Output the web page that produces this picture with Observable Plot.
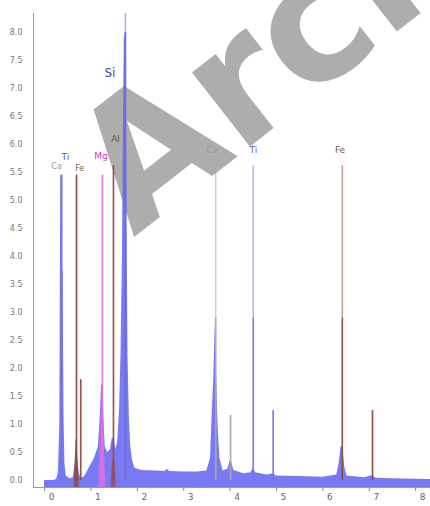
<!DOCTYPE html>
<html><head><meta charset="utf-8">
<script src="https://cdn.jsdelivr.net/npm/d3@7"></script>
<script src="https://cdn.jsdelivr.net/npm/@observablehq/plot@0.6"></script>
<style>body{margin:0;background:#fff}</style>
</head><body><div id="chart"></div>
<script>
// Spectrum (keV, counts)
const energy = [0.00,0.20,0.26,0.30,0.33,0.35,0.37,0.38,0.40,0.42,0.44,0.47,0.55,0.62,0.66,0.68,0.70,0.72,0.75,0.78,0.85,0.90,0.95,1.00,1.05,1.10,1.16,1.20,1.23,1.26,1.28,1.31,1.36,1.42,1.46,1.50,1.54,1.58,1.62,1.65,1.68,1.70,1.72,1.74,1.76,1.78,1.80,1.83,1.86,1.90,1.95,2.10,2.40,2.60,2.65,2.70,3.00,3.30,3.50,3.58,3.62,3.65,3.68,3.71,3.74,3.78,3.85,3.95,4.00,4.03,4.08,4.30,4.45,4.50,4.55,4.80,4.93,5.00,5.50,6.00,6.30,6.35,6.39,6.43,6.47,6.52,6.90,7.03,7.08,7.15,7.50,8.32];
const counts = [0,0,0.02,0.15,1.0,5.45,5.45,3.75,3.75,1.2,0.3,0.08,0.03,0.05,0.3,0.75,0.7,0.35,0.12,0.05,0.06,0.12,0.2,0.28,0.35,0.45,0.6,1.1,1.7,1.7,1.1,0.6,0.5,0.55,0.75,0.75,0.55,0.7,1.3,2.3,4.0,6.2,7.9,8.0,7.4,4.5,2.2,1.1,0.6,0.35,0.22,0.18,0.17,0.16,0.2,0.16,0.15,0.15,0.17,0.4,1.3,1.85,2.8,1.85,1.0,0.4,0.17,0.2,0.35,0.35,0.18,0.12,0.14,0.22,0.14,0.1,0.12,0.08,0.07,0.06,0.1,0.3,0.6,0.6,0.25,0.08,0.05,0.08,0.08,0.04,0.03,0.02];

// Element fit overlays
const overlayElement = ["Fe","Fe","Fe","Fe","Fe","Mg","Mg","Mg","Mg","Mg","Al","Al","Al","Al","Al"];
const overlayEnergy  = [0.64,0.67,0.69,0.72,0.75, 1.17,1.21,1.245,1.28,1.32, 1.44,1.47,1.49,1.51,1.54];
const overlayCounts  = [0.0,0.45,0.65,0.35,0.0, 0.0,0.9,1.6,0.9,0.0, 0.0,0.35,0.45,0.35,0.0];

// Marker lines
const lineElement = ["Ti","Fe","Fe","Mg","Al","Si","Ca","Ca","Ti","Ti","Fe","Fe"];
const lineEnergy  = [0.37,0.69,0.78,1.25,1.487,1.745,3.69,4.01,4.50,4.93,6.42,7.07];
const lineTop     = [5.45,5.45,1.8,5.45,5.62,8.34,5.62,1.16,5.62,1.25,5.62,1.25];
const lineStrong  = [5.45,5.45,1.8,5.45,5.62,8.0,2.9,1.16,2.9,1.25,2.9,1.25];

// Labels
const labelText   = ["Ca","Ti","Fe","Mg","Al","Si","Ca","Ti","Fe"];
const labelEnergy = [0.26,0.45,0.76,1.22,1.53,1.41,3.62,4.50,6.37];
const labelValue  = [5.6,5.78,5.58,5.8,6.1,7.28,5.9,5.9,5.9];
const labelSize   = [8,9,8,9,9,12,9,9,9];

// Tick values
const yTicks = [0.0,0.5,1.0,1.5,2.0,2.5,3.0,3.5,4.0,4.5,5.0,5.5,6.0,6.5,7.0,7.5,8.0];
const xTicks = [0,1,2,3,4,5,6,7,8];

const watermark = ["Archive"];

const colors = {Ca:"#a8a8a8", Ti:"#7474e6", Fe:"#8c4c3c", Mg:"#e070e0", Al:"#a04848", Si:"#6a6ad8"};
const labelColors = {Ca:"#9a9a9a", Ti:"#5a5ad0", Fe:"#7a5a3a", Mg:"#d040d0", Al:"#6a5a20", Si:"#4646c0"};

const xDomain = [-0.237, 8.32];
const yDomain = [-0.125, 8.34];

const spectrum = energy.map((e,i)=>({e, c: counts[i]}));
const overlays = overlayEnergy.map((e,i)=>({e, c: overlayCounts[i], el: overlayElement[i]}));
const lines = lineEnergy.map((e,i)=>({e, top: lineTop[i], strong: lineStrong[i], el: lineElement[i]}));
const labels = labelText.map((t,i)=>({t, e: labelEnergy[i], v: labelValue[i], s: labelSize[i]}));

const chart = Plot.plot({
  width: 430, height: 506,
  marginLeft: 33, marginRight: 0, marginTop: 13, marginBottom: 19,
  x: {domain: xDomain, label: null},
  y: {domain: yDomain, label: null},
  style: {fontFamily: "DejaVu Sans, sans-serif", background: "#fff"},
  marks: [
    Plot.text(watermark, {frameAnchor: "bottom-left", dx: 100, dy: -250, rotate: -38, fontSize: 172, fontWeight: "bold", fill: "#adadad", textAnchor: "start", lineAnchor: "bottom", fontFamily: "DejaVu Sans"}),
    Plot.areaY(spectrum, {x: "e", y1: yDomain[0], y2: "c", fill: "#6a6af2", fillOpacity: 0.9}),
    ...["Fe","Mg","Al"].map(el => Plot.areaY(overlays.filter(d=>d.el===el), {x: "e", y1: yDomain[0], y2: "c", fill: colors[el], fillOpacity: 0.75})),
    Plot.ruleX(lines, {x: "e", y1: 0, y2: "top", stroke: d => colors[d.el], strokeWidth: 1.5, strokeOpacity: 0.55}),
    Plot.ruleX(lines, {x: "e", y1: 0, y2: "strong", stroke: d => colors[d.el], strokeWidth: 1.5, strokeOpacity: 0.9}),
    Plot.text(labels, {x: "e", y: "v", text: "t", fill: d => labelColors[d.t], fontSize: "s", fontWeight: d => d.t==="Si" ? "bold" : "normal"}),
    Plot.axisY({ticks: yTicks, tickFormat: d3.format(".1f"), tickSize: 0, tickPadding: 11, fontSize: 8, fill: "#777", label: null}),
    Plot.axisX({ticks: xTicks, tickSize: 4, tickFormat: () => "", stroke: "#888", label: null}),
    Plot.axisX({ticks: xTicks, tickSize: 0, tickPadding: 6, dx: 7, fontSize: 9, fill: "#666", label: null}),
    Plot.frame({anchor: "left", stroke: "#999"}),
    Plot.frame({anchor: "bottom", stroke: "#999"})
  ]
});
document.getElementById("chart").append(chart);
</script></body></html>
